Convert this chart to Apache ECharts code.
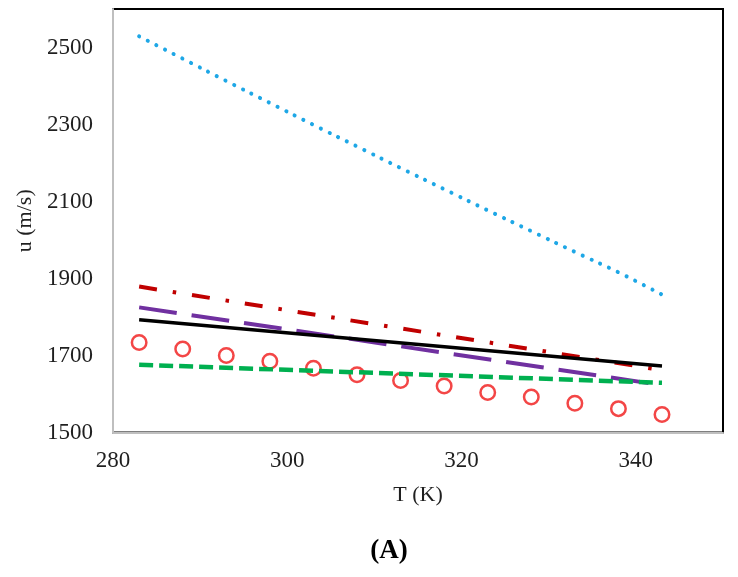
<!DOCTYPE html>
<html>
<head>
<meta charset="utf-8">
<script src="https://cdn.jsdelivr.net/npm/echarts@6/dist/echarts.min.js"></script>
<style>html,body{margin:0;padding:0;background:#fff;}#c{width:738px;height:577px;}</style>
</head>
<body>
<div id="c"></div>
<script>
// Temperatures (K)
const tPoints = [283, 288, 293, 298, 303, 308, 313, 318, 323, 328, 333, 338, 343];
const tEnds = [283, 343];
// Experimental values (circles)
const uExp = [1734, 1717, 1700, 1685, 1667, 1650, 1635, 1621, 1604, 1592, 1576, 1562, 1547];
// Model curves
const uBlue = [2529, 2471, 2413, 2356, 2299, 2243, 2187, 2132, 2077, 2023, 1969, 1916, 1858];
const uRed = [1879, 1662];
const uPurple = [1825, 1623];
const uBlack = [1793, 1673];
const uGreen = [1676, 1629];
const xTicks = [280, 300, 320, 340];
const yTicks = [1500, 1700, 1900, 2100, 2300, 2500];

const pairs = (xs, ys) => xs.map((x, i) => [x, ys[i]]);
const font = 'Liberation Serif, Times New Roman, serif';
const txt = '#1f1f1f';

const chart = echarts.init(document.getElementById('c'), null, {renderer: 'canvas'});
chart.setOption({
  animation: false,
  backgroundColor: '#fff',
  title: {
    text: '(A)', left: 384, top: 533, textAlign: 'center',
    textStyle: {fontFamily: font, fontWeight: 'bold', fontSize: 27, color: '#000'}
  },
  grid: {left: 113, top: 9, right: 15, bottom: 144.5, show: true, borderColor: '#000', borderWidth: 2, backgroundColor: 'transparent'},
  xAxis: {
    type: 'value', min: 280, max: 350, interval: 20,
    name: 'T (K)', nameLocation: 'middle', nameGap: 52,
    nameTextStyle: {fontFamily: font, fontSize: 22, color: txt},
    axisLine: {lineStyle: {color: '#bfbfbf', width: 2}},
    axisTick: {show: false}, splitLine: {show: false},
    axisLabel: {showMaxLabel: false, fontFamily: font, fontSize: 23, color: txt, margin: 17,
      formatter: v => xTicks.includes(v) ? String(v) : ''}
  },
  yAxis: {
    type: 'value', min: 1500, max: 2600, interval: 200,
    name: 'u (m/s)', nameLocation: 'middle', nameGap: 76,
    nameTextStyle: {fontFamily: font, fontSize: 22, color: txt},
    axisLine: {lineStyle: {color: '#bfbfbf', width: 2}},
    axisTick: {show: false}, splitLine: {show: false},
    axisLabel: {showMaxLabel: false, fontFamily: font, fontSize: 23, color: txt, margin: 20,
      formatter: v => yTicks.includes(v) ? String(v) : ''}
  },
  series: [
    {type: 'line', data: pairs(tPoints, uBlue), symbol: 'none', smooth: true,
      lineStyle: {color: '#1ea7e6', width: 4, type: [0.1, 9.6], cap: 'round'}},
    {type: 'line', data: pairs(tEnds, uRed), symbol: 'none',
      lineStyle: {color: '#c00000', width: 4, type: [18, 16, 3.5, 16], cap: 'butt'}},
    {type: 'line', data: pairs(tEnds, uPurple), symbol: 'none',
      lineStyle: {color: '#7030a0', width: 4, type: [38, 15], cap: 'butt'}},
    {type: 'line', data: pairs(tEnds, uBlack), symbol: 'none',
      lineStyle: {color: '#000', width: 3.5}},
    {type: 'line', data: pairs(tEnds, uGreen), symbol: 'none',
      lineStyle: {color: '#00b050', width: 4.5, type: [14, 6], cap: 'butt'}},
    {type: 'scatter', data: pairs(tPoints, uExp), symbol: 'circle', symbolSize: 14.5,
      itemStyle: {color: 'transparent', borderColor: '#f01818', borderWidth: 2.5}}
  ]
});
</script>
</body>
</html>
